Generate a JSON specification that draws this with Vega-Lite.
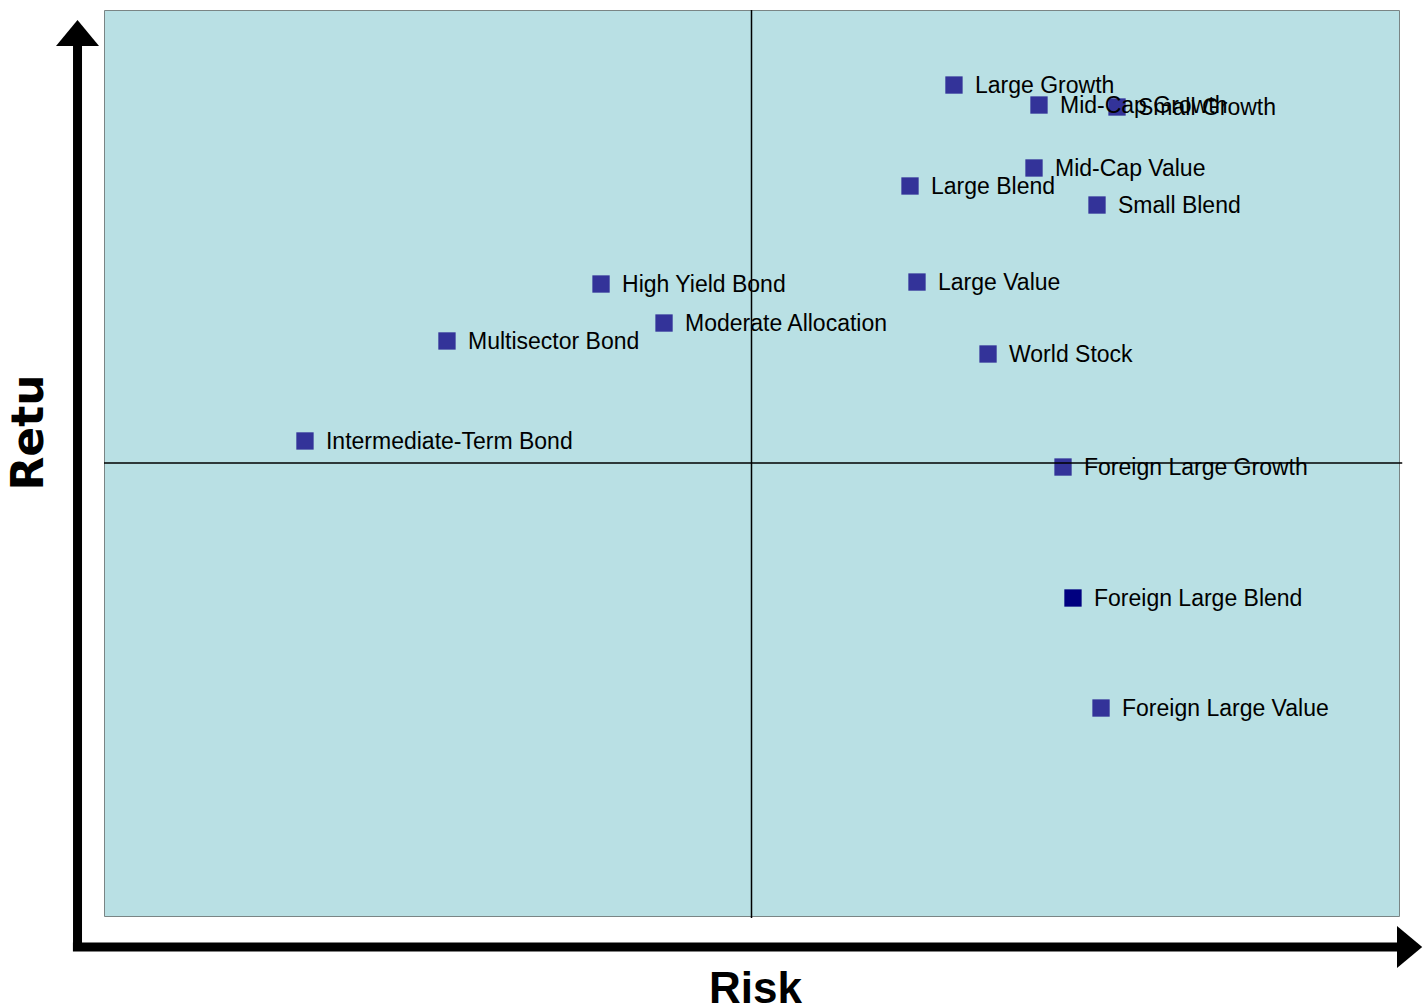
{
  "$schema": "https://vega.github.io/schema/vega-lite/v6.json",
  "width": 1295,
  "height": 906,
  "autosize": {"type": "none"},
  "padding": {"left": 104, "top": 10, "right": 28, "bottom": 90},
  "background": "white",
  "config": {
    "view": {"fill": "#b9e0e4", "stroke": "#7a8585", "strokeWidth": 1}
  },
  "datasets": {
    "funds": [
      {"name": "Large Growth", "risk": 13.127, "return": 12.675, "marker": "standard"},
      {"name": "Mid-Cap Growth", "risk": 14.44, "return": 12.322, "marker": "standard"},
      {"name": "Small Growth", "risk": 15.645, "return": 12.287, "marker": "standard"},
      {"name": "Mid-Cap Value", "risk": 14.363, "return": 11.21, "marker": "standard"},
      {"name": "Large Blend", "risk": 12.448, "return": 10.892, "marker": "standard"},
      {"name": "Small Blend", "risk": 15.336, "return": 10.556, "marker": "standard"},
      {"name": "High Yield Bond", "risk": 7.676, "return": 9.161, "marker": "standard"},
      {"name": "Large Value", "risk": 12.556, "return": 9.196, "marker": "standard"},
      {"name": "Moderate Allocation", "risk": 8.649, "return": 8.472, "marker": "standard"},
      {"name": "Multisector Bond", "risk": 5.297, "return": 8.155, "marker": "standard"},
      {"name": "World Stock", "risk": 13.653, "return": 7.925, "marker": "standard"},
      {"name": "Intermediate-Term Bond", "risk": 3.104, "return": 6.389, "marker": "standard"},
      {"name": "Foreign Large Growth", "risk": 14.811, "return": 5.929, "marker": "standard"},
      {"name": "Foreign Large Blend", "risk": 14.965, "return": 3.616, "marker": "dark"},
      {"name": "Foreign Large Value", "risk": 15.398, "return": 1.673, "marker": "standard"}
    ],
    "quadrants": [
      {"line": "mean risk", "risk": 10, "return": -2.035, "risk2": 10, "return2": 14},
      {"line": "mean return", "risk": 0, "return": 6, "risk2": 20.05, "return2": 6}
    ],
    "arrows": [
      {"arrow": "return axis", "risk": -0.409, "return": -2.62, "risk2": -0.409, "return2": 13.47},
      {"arrow": "risk axis", "risk": -0.48, "return": -2.547, "risk2": 20.02, "return2": -2.547}
    ],
    "heads": [
      {"head": "up", "risk": -0.409, "return": 13.594},
      {"head": "right", "risk": 20.164, "return": -2.547}
    ]
  },
  "encoding": {
    "x": {
      "field": "risk",
      "type": "quantitative",
      "scale": {"domain": [0, 20], "nice": false, "zero": false},
      "axis": {
        "title": "Risk",
        "domain": false,
        "ticks": false,
        "labels": false,
        "grid": false,
        "titleFont": "Liberation Sans",
        "titleFontSize": 44,
        "titleFontWeight": "bold",
        "titleColor": "black",
        "titleAlign": "center",
        "titleBaseline": "alphabetic",
        "titleX": 651,
        "titleY": 86
      }
    },
    "y": {
      "field": "return",
      "type": "quantitative",
      "scale": {"domain": [-2, 14], "nice": false, "zero": false},
      "axis": {
        "title": "Retu",
        "domain": false,
        "ticks": false,
        "labels": false,
        "grid": false,
        "titleFont": "DejaVu Sans",
        "titleFontSize": 44,
        "titleFontWeight": "bold",
        "titleColor": "black",
        "titleAngle": 270,
        "titleAlign": "center",
        "titleBaseline": "alphabetic",
        "titleX": -62,
        "titleY": 422
      }
    }
  },
  "layer": [
    {
      "data": {"name": "arrows"},
      "mark": {"type": "rule", "color": "black", "strokeWidth": 9, "strokeCap": "butt"},
      "encoding": {
        "x2": {"field": "risk2"},
        "y2": {"field": "return2"}
      }
    },
    {
      "data": {"name": "heads"},
      "transform": [{"filter": "datum.head === 'up'"}],
      "mark": {"type": "point", "shape": "M0,-0.6L1,0.6L-1,0.6Z", "filled": true, "color": "black", "opacity": 1, "size": 1849},
      "encoding": {}
    },
    {
      "data": {"name": "heads"},
      "transform": [{"filter": "datum.head === 'right'"}],
      "mark": {"type": "point", "shape": "M0.6,0L-0.6,-1L-0.6,1Z", "filled": true, "color": "black", "opacity": 1, "size": 1764},
      "encoding": {}
    },
    {
      "data": {"name": "funds"},
      "mark": {"type": "point", "shape": "square", "filled": true, "opacity": 1, "size": 300},
      "encoding": {
        "color": {
          "field": "marker",
          "type": "nominal",
          "scale": {"domain": ["standard", "dark"], "range": ["#333399", "#000080"]},
          "legend": null
        }
      }
    },
    {
      "data": {"name": "funds"},
      "mark": {"type": "text", "align": "left", "baseline": "middle", "dx": 21, "dy": 1, "font": "Liberation Sans", "fontSize": 23, "color": "black"},
      "encoding": {
        "text": {"field": "name", "type": "nominal"}
      }
    },
    {
      "data": {"name": "quadrants"},
      "mark": {"type": "rule", "color": "black", "strokeWidth": 1.5},
      "encoding": {
        "x2": {"field": "risk2"},
        "y2": {"field": "return2"}
      }
    }
  ]
}
